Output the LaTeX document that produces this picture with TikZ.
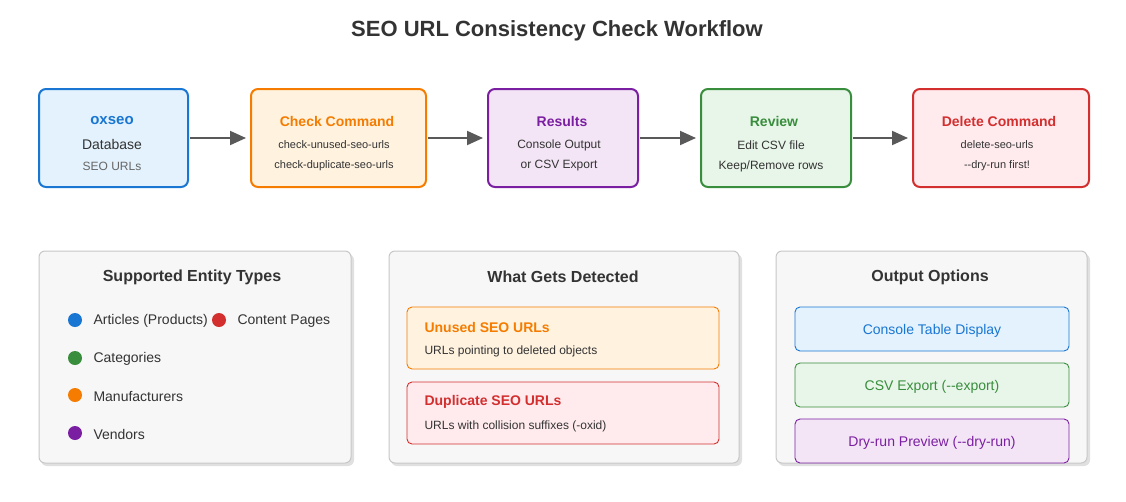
\documentclass[tikz,border=0pt]{standalone}
\usepackage{fontspec}
\setmainfont{Liberation Sans}
\usetikzlibrary{arrows.meta}
\definecolor{cb}{HTML}{1976D2}\definecolor{fb}{HTML}{E3F2FD}
\definecolor{co}{HTML}{F57C00}\definecolor{fo}{HTML}{FFF3E0}
\definecolor{cp}{HTML}{7B1FA2}\definecolor{fp}{HTML}{F3E5F5}
\definecolor{cg}{HTML}{388E3C}\definecolor{fg}{HTML}{E8F5E9}
\definecolor{cr}{HTML}{D32F2F}\definecolor{fr}{HTML}{FFEBEE}
\definecolor{tx}{HTML}{333333}
\newcommand{\fs}[1]{\fontsize{#1}{#1}\selectfont}
\newcommand{\dd}{-{}-}
\begin{document}
\begin{tikzpicture}[x=1pt,y=-1pt,
 box/.style={draw=#1,line width=2pt,rounded corners=7pt},
 panel/.style={draw=black!22,fill=black!3,line width=1pt,rounded corners=6pt},
 shad/.style={fill=black!12,rounded corners=6pt},
 ib/.style={draw=#1,line width=0.9pt,rounded corners=5pt},
 arr/.style={-{Triangle[length=16pt,width=14pt]},line width=2pt,draw=black!65},
 dot/.style={circle,inner sep=0pt,minimum size=14pt,fill=#1},
 lbl/.style={text=tx,anchor=west,font=\fs{14}},
 pt/.style={text=tx,font=\fs{16}\bfseries}]
\useasboundingbox (0,0) rectangle (1126,501);
\node[text=tx,font=\fs{22}\bfseries] (title) at (557,31) {SEO URL Consistency Check Workflow};
% top boxes
\draw[box=cb,fill=fb] (39,89) rectangle (188,187);
\draw[box=co,fill=fo] (251,89) rectangle (426,187);
\draw[box=cp,fill=fp] (488,89) rectangle (638,187);
\draw[box=cg,fill=fg] (701,89) rectangle (851,187);
\draw[box=cr,fill=fr] (913,89) rectangle (1089,187);
\node[text=cb,font=\fs{15}\bfseries] (t1) at (112,121) {oxseo};
\node[text=tx,font=\fs{14}] (s1) at (112,144) {Database};
\node[text=black!60,font=\fs{12}] (u1) at (112,166) {SEO URLs};
\node[text=co,font=\fs{14}\bfseries] (t2) at (337,121) {Check Command};
\node[text=tx,font=\fs{11}] (s2) at (334,145) {check-unused-seo-urls};
\node[text=tx,font=\fs{11}] (u2) at (334,166) {check-duplicate-seo-urls};
\node[text=cp,font=\fs{14}\bfseries] (t3) at (562,121) {Results};
\node[text=tx,font=\fs{12}] (s3) at (559,145) {Console Output};
\node[text=tx,font=\fs{12}] (u3) at (559,166) {or CSV Export};
\node[text=cg,font=\fs{14}\bfseries] (t4) at (774,121) {Review};
\node[text=tx,font=\fs{12}] (s4) at (771,145) {Edit CSV file};
\node[text=tx,font=\fs{12}] (u4) at (771,166) {Keep/Remove rows};
\node[text=cr,font=\fs{14}\bfseries] (t5) at (999,121) {Delete Command};
\node[text=tx,font=\fs{11}] (s5) at (997,145) {delete-seo-urls};
\node[text=tx,font=\fs{11}] (u5) at (997,166) {\dd dry-run first!};
\coordinate (a1s) at (190,138);\coordinate (a1e) at (246,138);
\coordinate (a2s) at (428,138);\coordinate (a2e) at (483,138);
\coordinate (a3s) at (640,138);\coordinate (a3e) at (696,138);
\coordinate (a4s) at (853,138);\coordinate (a4e) at (908,138);
\draw[arr] (a1s)--(a1e);\draw[arr] (a2s)--(a2e);\draw[arr] (a3s)--(a3e);\draw[arr] (a4s)--(a4e);
% panels
\foreach \a/\b in {39/351,389/739,776/1087}{
 \fill[shad] (\a+2,254) rectangle (\b+3,466);
 \draw[panel] (\a,251) rectangle (\b,463);}
\node[pt] (p1) at (192,277) {Supported Entity Types};
\node[pt] (p2) at (563,277) {What Gets Detected};
\node[pt] (p3) at (930,277) {Output Options};
\node[dot=cb] (d1) at (75,320) {};\node[lbl] (l1) at (90,321) {Articles (Products)};
\node[dot=cr] (d2) at (219,320) {};\node[lbl] (l2) at (234,321) {Content Pages};
\node[dot=cg] (d3) at (75,358) {};\node[lbl] (l3) at (90,359) {Categories};
\node[dot=co] (d4) at (75,395) {};\node[lbl] (l4) at (90,396) {Manufacturers};
\node[dot=cp] (d5) at (75,433) {};\node[lbl] (l5) at (90,434) {Vendors};
% detected
\draw[ib=co,fill=fo] (407,307) rectangle (719,369);
\node[text=co,font=\fs{14}\bfseries,anchor=west] (du) at (421,327) {Unused SEO URLs};
\node[text=tx,font=\fs{12},anchor=west] (dut) at (421,351) {URLs pointing to deleted objects};
\draw[ib=cr,fill=fr] (407,382) rectangle (719,444);
\node[text=cr,font=\fs{14}\bfseries,anchor=west] (dd) at (421,402) {Duplicate SEO URLs};
\node[text=tx,font=\fs{12},anchor=west] (ddt) at (421,426) {URLs with collision suffixes (-oxid)};
% outputs
\draw[ib=cb,fill=fb] (795,307) rectangle (1069,351);
\node[text=cb,font=\fs{14}] (o1) at (932,331) {Console Table Display};
\draw[ib=cg,fill=fg] (795,363) rectangle (1069,407);
\node[text=cg,font=\fs{14}] (o2) at (932,387) {CSV Export (\dd export)};
\draw[ib=cp,fill=fp] (795,419) rectangle (1069,463);
\node[text=cp,font=\fs{14}] (o3) at (932,443) {Dry-run Preview (\dd dry-run)};
\end{tikzpicture}
\end{document}
